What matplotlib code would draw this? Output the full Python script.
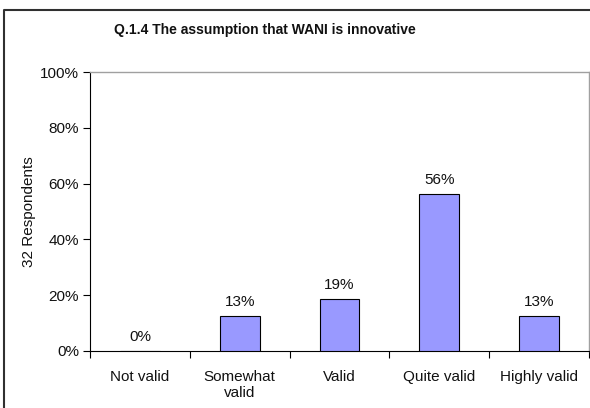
import numpy as np
import matplotlib.pyplot as plt
from matplotlib.lines import Line2D

categories = ['Not valid', 'Somewhat\nvalid', 'Valid', 'Quite valid', 'Highly valid']
percent = [0, 12.5, 18.75, 56.25, 12.5]
bar_labels = ['0%', '13%', '19%', '56%', '13%']
yticks = [0, 20, 40, 60, 80, 100]

plt.rcParams['font.family'] = ['Liberation Sans', 'DejaVu Sans']

fig = plt.figure(figsize=(5.9, 4.08), dpi=100)
ax = fig.add_axes([90/590, 1-351/408, 499/590, 279/408])

x = np.arange(len(categories))
bars = ax.bar(x, percent, width=0.4, color='#9999ff', edgecolor='black', linewidth=0.8, zorder=3)
for xi, v, lab in zip(x, percent, bar_labels):
    ax.annotate(lab, (xi, v), xytext=(0, 5), textcoords='offset points',
                ha='center', va='bottom', fontsize=11, color='#111111')

ax.set_xlim(-0.5, len(categories)-0.5)
ax.set_ylim(0, 100)
ax.set_yticks(yticks)
ax.set_yticklabels([f'{t}%' for t in yticks], fontsize=11, color='#111111')
ax.set_xticks(x)
ax.set_xticklabels(categories, fontsize=11, color='#111111', linespacing=1.1)
ax.tick_params(axis='x', length=0, pad=14)
ax.set_xticks(np.arange(-0.5, len(categories)), minor=True)
ax.tick_params(axis='x', which='minor', length=5, direction='out', width=0.8)
ax.tick_params(axis='y', length=5, direction='out', width=0.8, pad=3)

for s in ['top', 'right']:
    ax.spines[s].set_color('#a0a0a0')
    ax.spines[s].set_linewidth(1.0)
for s in ['left', 'bottom']:
    ax.spines[s].set_color('black')
    ax.spines[s].set_linewidth(0.8)

ax.set_ylabel('32 Respondents', fontsize=11, labelpad=3, color='#111111')
fig.text(265/590, 1-30/408, 'Q.1.4 The assumption that WANI is innovative',
         ha='center', va='center', fontsize=10, fontweight='bold', color='#111111')

# outer chart border (left and top only, rest cropped)
fig.add_artist(Line2D([4/590, 4/590, 1], [0, 1-10/408, 1-10/408],
                      transform=fig.transFigure, color='#303030', linewidth=1.5))

fig.savefig('out.png', dpi=100)
